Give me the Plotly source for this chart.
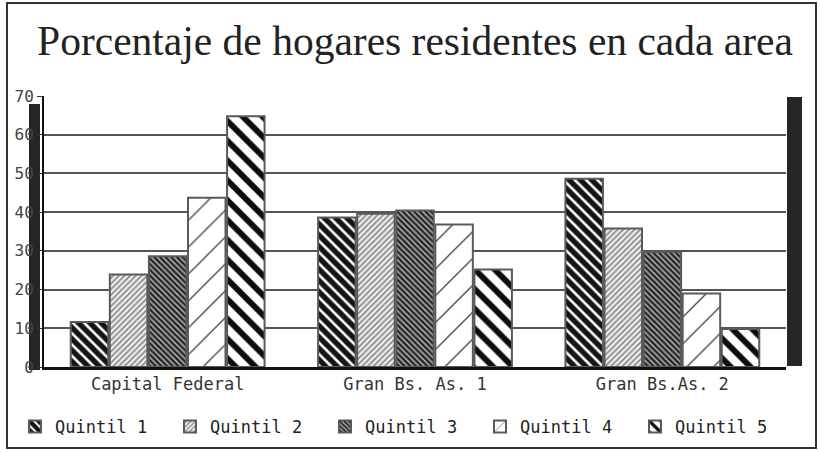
import plotly.graph_objects as go

# ---- data ----
categories = ["Capital Federal", "Gran Bs. As. 1", "Gran Bs.As. 2"]
series_names = ["Quintil 1", "Quintil 2", "Quintil 3", "Quintil 4", "Quintil 5"]
quintil_1 = [11.6, 38.6, 48.6]
quintil_2 = [23.9, 39.6, 35.8]
quintil_3 = [28.6, 40.4, 29.8]
quintil_4 = [43.7, 36.8, 19.0]
quintil_5 = [64.8, 25.2, 9.8]
y_ticks = [0, 10, 20, 30, 40, 50, 60, 70]
title_text = "Porcentaje de hogares residentes en cada area"

series_values = [quintil_1, quintil_2, quintil_3, quintil_4, quintil_5]

# ---- styles ----
patterns = [
    dict(shape="\\", fgcolor="#151515", bgcolor="#ffffff", size=8, solidity=0.68, fgopacity=1),
    dict(shape="/", fgcolor="#8a8a8a", bgcolor="#f0f0f0", size=4, solidity=0.45, fgopacity=1),
    dict(shape="\\", fgcolor="#222222", bgcolor="#a8a8a8", size=4, solidity=0.55, fgopacity=1),
    dict(shape="/", fgcolor="#444444", bgcolor="#ffffff", size=19, solidity=0.07, fgopacity=1),
    dict(shape="\\", fgcolor="#0d0d0d", bgcolor="#ffffff", size=14, solidity=0.42, fgopacity=1),
]

W, H = 820, 452
L, R, T, B = 44, 34, 96, 85
pw, ph = W - L - R, H - T - B


def px_x(x):
    return (x - L) / pw


def px_y(y):
    return (H - B - y) / ph


fig = go.Figure()
for name, vals, pat in zip(series_names, series_values, patterns):
    fig.add_trace(go.Bar(
        name=name, x=categories, y=vals,
        marker=dict(pattern=pat, color=pat["bgcolor"],
                    line=dict(color="#5a5a5a", width=2)),
    ))

mono = "DejaVu Sans Mono, Liberation Mono, monospace"

shapes = [
    # outer frame
    dict(type="rect", xref="paper", yref="paper",
         x0=px_x(7), x1=px_x(816), y0=px_y(448), y1=px_y(3),
         line=dict(color="#333333", width=2), fillcolor="rgba(0,0,0,0)", layer="below"),
    # dark side bands (scan artifacts)
    dict(type="rect", xref="paper", yref="paper",
         x0=px_x(29), x1=px_x(40), y0=px_y(370), y1=px_y(104),
         line=dict(width=0), fillcolor="#262626", layer="below"),
    dict(type="rect", xref="paper", yref="paper",
         x0=px_x(787), x1=px_x(802), y0=px_y(366), y1=px_y(97),
         line=dict(width=0), fillcolor="#262626", layer="below"),
]

fig.update_layout(
    width=W, height=H,
    margin=dict(l=L, r=R, t=T, b=B, autoexpand=False),
    paper_bgcolor="#ffffff", plot_bgcolor="#ffffff",
    barmode="group", bargap=0.21, bargroupgap=0.04,
    title=dict(text=title_text, x=0.5, xref="paper", xanchor="center",
               y=1 - 40 / H, yref="container", yanchor="middle",
               font=dict(family="Liberation Serif, serif",
                         size=41.5, color="#222222")),
    xaxis=dict(range=[-0.5, 2.5], showline=True, linecolor="#111111", linewidth=3,
               ticks="", tickfont=dict(family=mono, size=17, color="#333333"),
               showgrid=False, zeroline=False),
    yaxis=dict(range=[0, 70], tickvals=y_ticks, showline=True, linecolor="#111111",
               linewidth=2, ticks="outside", ticklen=5, tickcolor="#333333",
               tickfont=dict(family=mono, size=16, color="#444444"),
               showgrid=True, gridcolor="#555555", gridwidth=1.5, zeroline=False),
    legend=dict(orientation="h", x=px_x(15), xanchor="left", y=px_y(427), yanchor="middle",
                font=dict(family=mono, size=17, color="#222222"),
                entrywidth=110, entrywidthmode="pixels", bgcolor="rgba(0,0,0,0)",
                traceorder="normal"),
    shapes=shapes,
)

fig.write_html("out.html", config={"displayModeBar": False},
               post_script="document.body.style.margin='0';")
